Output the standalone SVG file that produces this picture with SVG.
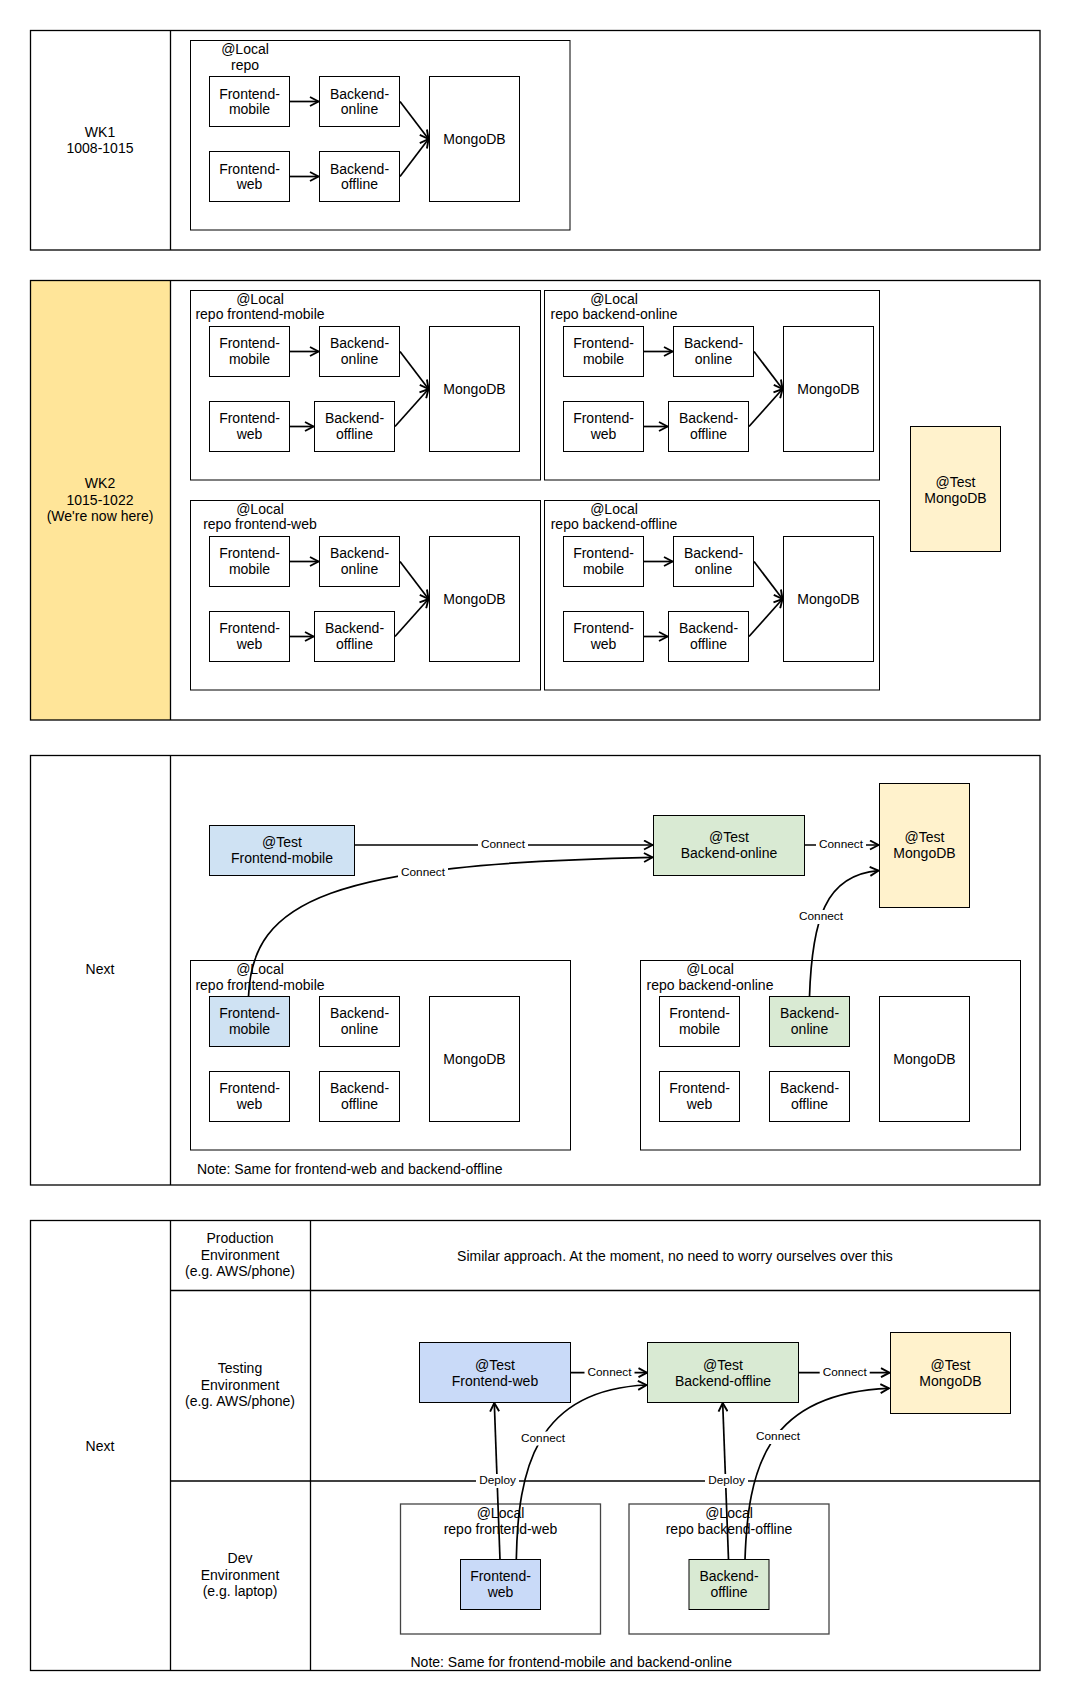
<svg xmlns="http://www.w3.org/2000/svg" width="1066" height="1690" viewBox="0 0 1066 1690">
<style>
.lane{fill:none;stroke:#000;stroke-width:1.3}
.ln{stroke:#000;stroke-width:1.3}
.ct{fill:#fff;stroke:#000;stroke-width:1}
.ct2{fill:#fff;stroke:#444;stroke-width:1.3}
.bx{fill:#fff;stroke:#000;stroke-width:1}
.blue{fill:#CFE2F3;stroke:#000;stroke-width:1}
.blue2{fill:#C9DAF8;stroke:#000;stroke-width:1}
.green{fill:#D9EAD3;stroke:#000;stroke-width:1}
.yel{fill:#FFF2CC;stroke:#000;stroke-width:1}
text{font-family:"Liberation Sans",Arial,Helvetica,sans-serif;font-size:14px;fill:#000;text-anchor:middle;dominant-baseline:central;transform:translateY(-0.8px)}
.st{text-anchor:start}
.lbl{font-size:11.8px}
.e{fill:none;stroke:#000;stroke-width:1.7;marker-end:url(#arr)}
.bg{fill:#fff}
</style>
<defs>
<marker id="arr" viewBox="0 0 11 11" refX="10" refY="5.5" markerWidth="11" markerHeight="11" markerUnits="userSpaceOnUse" orient="auto">
<path d="M1.5,1 L10,5.5 L1.5,10" fill="none" stroke="#000" stroke-width="1.9"/>
</marker>
</defs>
<rect width="1066" height="1690" fill="#fff"/>

<!-- Lanes -->
<g id="lane-wk1">
<rect class="lane" x="30.5" y="30.5" width="1009.5" height="219.5"/>
<line class="ln" x1="170.5" y1="30.5" x2="170.5" y2="250"/>
<text x="100" y="133">WK1</text>
<text x="100" y="149">1008-1015</text>
</g>
<g id="lane-wk2">
<rect x="30.5" y="280.5" width="140" height="439.5" fill="#FFE599"/>
<rect class="lane" x="30.5" y="280.5" width="1009.5" height="439.5"/>
<line class="ln" x1="170.5" y1="280.5" x2="170.5" y2="720"/>
<text x="100" y="484">WK2</text>
<text x="100" y="500.5">1015-1022</text>
<text x="100" y="517">(We're now here)</text>
</g>
<g id="lane-next1">
<rect class="lane" x="30.5" y="755.5" width="1009.5" height="429.5"/>
<line class="ln" x1="170.5" y1="755.5" x2="170.5" y2="1185"/>
<text x="100" y="970">Next</text>
<text class="st" x="197" y="1170">Note: Same for frontend-web and backend-offline</text>
</g>
<g id="lane-next2">
<rect class="lane" x="30.5" y="1220.5" width="1009.5" height="450"/>
<line class="ln" x1="170.5" y1="1220.5" x2="170.5" y2="1670.5"/>
<line class="ln" x1="310.5" y1="1220.5" x2="310.5" y2="1670.5"/>
<line class="ln" x1="170.5" y1="1290.5" x2="1040" y2="1290.5"/>
<line class="ln" x1="170.5" y1="1481" x2="1040" y2="1481"/>
<text x="100" y="1446.5">Next</text>
<text x="240" y="1239">Production</text>
<text x="240" y="1255.5">Environment</text>
<text x="240" y="1272">(e.g. AWS/phone)</text>
<text x="675" y="1256.5">Similar approach. At the moment, no need to worry ourselves over this</text>
<text x="240" y="1369">Testing</text>
<text x="240" y="1385.5">Environment</text>
<text x="240" y="1402">(e.g. AWS/phone)</text>
<text x="240" y="1559">Dev</text>
<text x="240" y="1575.5">Environment</text>
<text x="240" y="1592">(e.g. laptop)</text>
<text class="st" x="410.5" y="1662.5">Note: Same for frontend-mobile and backend-online</text>
</g>

<!-- WK1 -->
<g id="wk1-local">
<rect class="ct" x="190.5" y="40.5" width="379.5" height="189.5"/>
<text x="245" y="50">@Local</text>
<text x="245" y="65.5">repo</text>
</g>
<g id="wk1-fm"><rect class="bx" x="209.5" y="76.5" width="80" height="50"/><text x="249.5" y="94.5">Frontend-</text><text x="249.5" y="110">mobile</text></g>
<g id="wk1-bo"><rect class="bx" x="319.5" y="76.5" width="80" height="50"/><text x="359.5" y="94.5">Backend-</text><text x="359.5" y="110">online</text></g>
<g id="wk1-fw"><rect class="bx" x="209.5" y="151.5" width="80" height="50"/><text x="249.5" y="169.5">Frontend-</text><text x="249.5" y="185">web</text></g>
<g id="wk1-boff"><rect class="bx" x="319.5" y="151.5" width="80" height="50"/><text x="359.5" y="169.5">Backend-</text><text x="359.5" y="185">offline</text></g>
<g id="wk1-mongo"><rect class="bx" x="429.5" y="76.5" width="90" height="125"/><text x="474.5" y="140">MongoDB</text></g>

<!-- WK2 containers -->
<g id="wk2-c1">
<rect class="ct" x="190.5" y="290.5" width="350" height="189.5"/>
<text x="260" y="299.5">@Local</text><text x="260" y="315">repo frontend-mobile</text>
<g id="wk2-c1-fm"><rect class="bx" x="209.5" y="326.5" width="80" height="50"/><text x="249.5" y="344">Frontend-</text><text x="249.5" y="360">mobile</text></g>
<g id="wk2-c1-bo"><rect class="bx" x="319.5" y="326.5" width="80" height="50"/><text x="359.5" y="344">Backend-</text><text x="359.5" y="360">online</text></g>
<g id="wk2-c1-fw"><rect class="bx" x="209.5" y="401.5" width="80" height="50"/><text x="249.5" y="419">Frontend-</text><text x="249.5" y="435">web</text></g>
<g id="wk2-c1-boff"><rect class="bx" x="314.5" y="401.5" width="80" height="50"/><text x="354.5" y="419">Backend-</text><text x="354.5" y="435">offline</text></g>
<g id="wk2-c1-mongo"><rect class="bx" x="429.5" y="326.5" width="90" height="125"/><text x="474.5" y="390">MongoDB</text></g>
</g>
<g id="wk2-c2">
<rect class="ct" x="544.5" y="290.5" width="335" height="189.5"/>
<text x="614" y="299.5">@Local</text><text x="614" y="315">repo backend-online</text>
<g id="wk2-c2-fm"><rect class="bx" x="563.5" y="326.5" width="80" height="50"/><text x="603.5" y="344">Frontend-</text><text x="603.5" y="360">mobile</text></g>
<g id="wk2-c2-bo"><rect class="bx" x="673.5" y="326.5" width="80" height="50"/><text x="713.5" y="344">Backend-</text><text x="713.5" y="360">online</text></g>
<g id="wk2-c2-fw"><rect class="bx" x="563.5" y="401.5" width="80" height="50"/><text x="603.5" y="419">Frontend-</text><text x="603.5" y="435">web</text></g>
<g id="wk2-c2-boff"><rect class="bx" x="668.5" y="401.5" width="80" height="50"/><text x="708.5" y="419">Backend-</text><text x="708.5" y="435">offline</text></g>
<g id="wk2-c2-mongo"><rect class="bx" x="783.5" y="326.5" width="90" height="125"/><text x="828.5" y="390">MongoDB</text></g>
</g>
<g id="wk2-c3">
<rect class="ct" x="190.5" y="500.5" width="350" height="189.5"/>
<text x="260" y="509.5">@Local</text><text x="260" y="525">repo frontend-web</text>
<g id="wk2-c3-fm"><rect class="bx" x="209.5" y="536.5" width="80" height="50"/><text x="249.5" y="554">Frontend-</text><text x="249.5" y="570">mobile</text></g>
<g id="wk2-c3-bo"><rect class="bx" x="319.5" y="536.5" width="80" height="50"/><text x="359.5" y="554">Backend-</text><text x="359.5" y="570">online</text></g>
<g id="wk2-c3-fw"><rect class="bx" x="209.5" y="611.5" width="80" height="50"/><text x="249.5" y="629">Frontend-</text><text x="249.5" y="645">web</text></g>
<g id="wk2-c3-boff"><rect class="bx" x="314.5" y="611.5" width="80" height="50"/><text x="354.5" y="629">Backend-</text><text x="354.5" y="645">offline</text></g>
<g id="wk2-c3-mongo"><rect class="bx" x="429.5" y="536.5" width="90" height="125"/><text x="474.5" y="600">MongoDB</text></g>
</g>
<g id="wk2-c4">
<rect class="ct" x="544.5" y="500.5" width="335" height="189.5"/>
<text x="614" y="509.5">@Local</text><text x="614" y="525">repo backend-offline</text>
<g id="wk2-c4-fm"><rect class="bx" x="563.5" y="536.5" width="80" height="50"/><text x="603.5" y="554">Frontend-</text><text x="603.5" y="570">mobile</text></g>
<g id="wk2-c4-bo"><rect class="bx" x="673.5" y="536.5" width="80" height="50"/><text x="713.5" y="554">Backend-</text><text x="713.5" y="570">online</text></g>
<g id="wk2-c4-fw"><rect class="bx" x="563.5" y="611.5" width="80" height="50"/><text x="603.5" y="629">Frontend-</text><text x="603.5" y="645">web</text></g>
<g id="wk2-c4-boff"><rect class="bx" x="668.5" y="611.5" width="80" height="50"/><text x="708.5" y="629">Backend-</text><text x="708.5" y="645">offline</text></g>
<g id="wk2-c4-mongo"><rect class="bx" x="783.5" y="536.5" width="90" height="125"/><text x="828.5" y="600">MongoDB</text></g>
</g>
<g id="wk2-test-mongo"><rect class="yel" x="910.5" y="426.5" width="90" height="125"/><text x="955.5" y="482.5">@Test</text><text x="955.5" y="498.5">MongoDB</text></g>

<!-- Next 1 -->
<g id="n1-test-fm"><rect class="blue" x="209.5" y="825.5" width="145" height="50"/><text x="282" y="843">@Test</text><text x="282" y="859">Frontend-mobile</text></g>
<g id="n1-test-bo"><rect class="green" x="653.5" y="815.5" width="151" height="60"/><text x="729" y="838">@Test</text><text x="729" y="854">Backend-online</text></g>
<g id="n1-test-mongo"><rect class="yel" x="879.5" y="783.5" width="90" height="124"/><text x="924.5" y="838">@Test</text><text x="924.5" y="854">MongoDB</text></g>
<g id="n1-c1">
<rect class="ct" x="190.5" y="960.5" width="380" height="189.5"/>
<text x="260" y="969.5">@Local</text><text x="260" y="985.5">repo frontend-mobile</text>
<g id="n1-c1-fm"><rect class="blue" x="209.5" y="996.5" width="80" height="50"/><text x="249.5" y="1014">Frontend-</text><text x="249.5" y="1030">mobile</text></g>
<g id="n1-c1-bo"><rect class="bx" x="319.5" y="996.5" width="80" height="50"/><text x="359.5" y="1014">Backend-</text><text x="359.5" y="1030">online</text></g>
<g id="n1-c1-fw"><rect class="bx" x="209.5" y="1071.5" width="80" height="50"/><text x="249.5" y="1089">Frontend-</text><text x="249.5" y="1105">web</text></g>
<g id="n1-c1-boff"><rect class="bx" x="319.5" y="1071.5" width="80" height="50"/><text x="359.5" y="1089">Backend-</text><text x="359.5" y="1105">offline</text></g>
<g id="n1-c1-mongo"><rect class="bx" x="429.5" y="996.5" width="90" height="125"/><text x="474.5" y="1060">MongoDB</text></g>
</g>
<g id="n1-c2">
<rect class="ct" x="640.5" y="960.5" width="380" height="189.5"/>
<text x="710" y="969.5">@Local</text><text x="710" y="985.5">repo backend-online</text>
<g id="n1-c2-fm"><rect class="bx" x="659.5" y="996.5" width="80" height="50"/><text x="699.5" y="1014">Frontend-</text><text x="699.5" y="1030">mobile</text></g>
<g id="n1-c2-bo"><rect class="green" x="769.5" y="996.5" width="80" height="50"/><text x="809.5" y="1014">Backend-</text><text x="809.5" y="1030">online</text></g>
<g id="n1-c2-fw"><rect class="bx" x="659.5" y="1071.5" width="80" height="50"/><text x="699.5" y="1089">Frontend-</text><text x="699.5" y="1105">web</text></g>
<g id="n1-c2-boff"><rect class="bx" x="769.5" y="1071.5" width="80" height="50"/><text x="809.5" y="1089">Backend-</text><text x="809.5" y="1105">offline</text></g>
<g id="n1-c2-mongo"><rect class="bx" x="879.5" y="996.5" width="90" height="125"/><text x="924.5" y="1060">MongoDB</text></g>
</g>

<!-- Next 2 -->
<g id="n2-test-fw"><rect class="blue2" x="419.5" y="1342.5" width="151" height="60"/><text x="495" y="1365.5">@Test</text><text x="495" y="1381.5">Frontend-web</text></g>
<g id="n2-test-boff"><rect class="green" x="647.5" y="1342.5" width="151" height="60"/><text x="723" y="1365.5">@Test</text><text x="723" y="1381.5">Backend-offline</text></g>
<g id="n2-test-mongo"><rect class="yel" x="890.5" y="1332.5" width="120" height="81"/><text x="950.5" y="1365.5">@Test</text><text x="950.5" y="1382">MongoDB</text></g>
<g id="n2-c1">
<rect class="ct2" x="400.5" y="1504" width="200" height="130"/>
<text x="500.5" y="1513.5">@Local</text><text x="500.5" y="1529.5">repo frontend-web</text>
<g id="n2-c1-fw"><rect class="blue2" x="460.5" y="1559.5" width="80" height="50"/><text x="500.5" y="1577">Frontend-</text><text x="500.5" y="1593">web</text></g>
</g>
<g id="n2-c2">
<rect class="ct2" x="629" y="1504" width="200" height="130"/>
<text x="729" y="1513.5">@Local</text><text x="729" y="1529.5">repo backend-offline</text>
<g id="n2-c2-boff"><rect class="green" x="689" y="1559.5" width="80" height="50"/><text x="729" y="1577">Backend-</text><text x="729" y="1593">offline</text></g>
</g>

<!-- Connectors -->
<g id="connectors">
<path class="e" d="M290,101.5 L318.5,101.5"/>
<path class="e" d="M290,176.5 L318.5,176.5"/>
<path class="e" d="M400,101.5 L428.5,139"/>
<path class="e" d="M400,176.5 L428.5,139"/>

<path class="e" d="M290,351.5 L318.5,351.5"/>
<path class="e" d="M290,426.5 L313.5,426.5"/>
<path class="e" d="M400,351.5 L428.5,389"/>
<path class="e" d="M395,426.5 L428.5,389"/>
<path class="e" d="M644,351.5 L672.5,351.5"/>
<path class="e" d="M644,426.5 L667.5,426.5"/>
<path class="e" d="M754,351.5 L782.5,389"/>
<path class="e" d="M749,426.5 L782.5,389"/>
<path class="e" d="M290,561.5 L318.5,561.5"/>
<path class="e" d="M290,636.5 L313.5,636.5"/>
<path class="e" d="M400,561.5 L428.5,599"/>
<path class="e" d="M395,636.5 L428.5,599"/>
<path class="e" d="M644,561.5 L672.5,561.5"/>
<path class="e" d="M644,636.5 L667.5,636.5"/>
<path class="e" d="M754,561.5 L782.5,599"/>
<path class="e" d="M749,636.5 L782.5,599"/>

<path class="e" d="M355,845 L652.5,845"/>
<rect class="bg" x="478" y="838" width="50" height="14"/>
<text class="lbl" x="503" y="845">Connect</text>
<path class="e" d="M805,845 L878.5,845"/>
<rect class="bg" x="816" y="838" width="50" height="14"/>
<text class="lbl" x="841" y="845">Connect</text>
<path class="e" d="M248.5,996.5 C252,900 330,864 652.5,857.3"/>
<rect class="bg" x="398" y="866" width="50" height="14"/>
<text class="lbl" x="423" y="873">Connect</text>
<path class="e" d="M809.5,996.5 C812,920 825,875 878.5,870.7"/>
<rect class="bg" x="796" y="910" width="50" height="14"/>
<text class="lbl" x="821" y="917">Connect</text>

<path class="e" d="M571,1372.7 L647,1372.7"/>
<rect class="bg" x="584.5" y="1365.7" width="50" height="14"/>
<text class="lbl" x="609.5" y="1372.7">Connect</text>
<path class="e" d="M799,1372.7 L889.5,1372.7"/>
<rect class="bg" x="819.7" y="1365.7" width="50" height="14"/>
<text class="lbl" x="844.7" y="1372.7">Connect</text>
<path class="e" d="M500,1559.5 L494.3,1403"/>
<rect class="bg" x="476" y="1474" width="43" height="14"/>
<text class="lbl" x="497.5" y="1481">Deploy</text>
<path class="e" d="M728.5,1559.5 L722.7,1403"/>
<rect class="bg" x="705" y="1474" width="43" height="14"/>
<text class="lbl" x="726.5" y="1481">Deploy</text>
<path class="e" d="M516.3,1559.5 C518,1470 535,1390 646.5,1385"/>
<rect class="bg" x="518" y="1431.5" width="50" height="14"/>
<text class="lbl" x="543" y="1438.5">Connect</text>
<path class="e" d="M745,1559.5 C748,1470 765,1393 889,1388.3"/>
<rect class="bg" x="753" y="1430" width="50" height="14"/>
<text class="lbl" x="778" y="1437">Connect</text>
</g>
</svg>
